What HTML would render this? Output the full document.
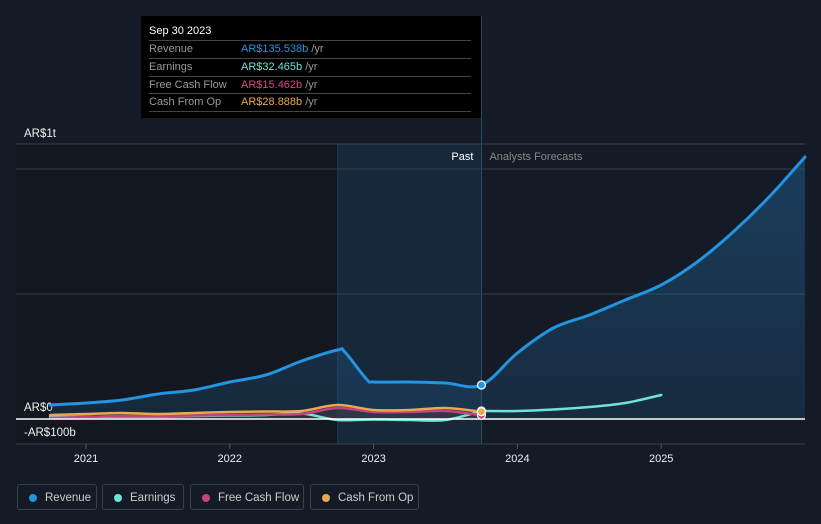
<!DOCTYPE html>
<html><head><meta charset="utf-8"><style>
body{margin:0;background:#151b26;font-family:"Liberation Sans",sans-serif;}
#wrap{position:relative;width:821px;height:524px;overflow:hidden;background:#151b26}
svg{position:absolute;left:0;top:0}
.tt{position:absolute;left:141px;top:16px;width:340px;height:102px;background:#000;color:#fff;font-size:11px}
.tt .h{position:absolute;left:8px;top:9px;font-size:11px}
.tt .r{position:absolute;left:8px;width:322px;height:17px;border-top:1px solid #444;color:#999;line-height:17px}
.tt .r span{position:absolute;left:92px}
.tt .r i{font-style:normal;color:#999}
.lg{position:absolute;top:484px;height:26px;border:1px solid #3a3f48;border-radius:3px;color:#ccc;font-size:11.5px;line-height:26px;box-sizing:border-box}
.lg b{position:absolute;left:11px;top:9px;width:8px;height:8px;border-radius:50%}
.lg span{position:absolute;left:27px;white-space:nowrap}
</style></head><body>
<div id="wrap">
<svg id="svg" width="821" height="524"></svg>
<div class="tt">
<div class="h">Sep 30 2023</div>
<div class="r" style="top:24px">Revenue<span style="color:#2394df">AR$135.538b <i>/yr</i></span></div>
<div class="r" style="top:42px">Earnings<span style="color:#6ee5d4">AR$32.465b <i>/yr</i></span></div>
<div class="r" style="top:60px">Free Cash Flow<span style="color:#d9468b">AR$15.462b <i>/yr</i></span></div>
<div class="r" style="top:77px;border-bottom:1px solid #444">Cash From Op<span style="color:#e9a852">AR$28.888b <i>/yr</i></span></div>
</div>
<div class="lg" style="left:17px;width:80px"><b style="background:#2394df"></b><span>Revenue</span></div>
<div class="lg" style="left:102px;width:82px"><b style="background:#6ee5d4"></b><span>Earnings</span></div>
<div class="lg" style="left:190px;width:114px"><b style="background:#c2437f"></b><span>Free Cash Flow</span></div>
<div class="lg" style="left:310px;width:109px"><b style="background:#e9a852"></b><span>Cash From Op</span></div>
</div>
<script>
const revT=[2020.75,2021,2021.25,2021.5,2021.75,2022,2022.25,2022.5,2022.75,2022.8,2022.95,2023,2023.25,2023.5,2023.75,2024,2024.25,2024.5,2024.75,2025,2025.25,2025.5,2025.75,2026];
const revV=[56,64,76,100,116,148,176,232,276,268,160,148,148,144,136,264,364,416,476,536,628,748,888,1048];
const pastT=[2020.75,2021,2021.25,2021.5,2021.75,2022,2022.25,2022.5,2022.75,2023,2023.25,2023.5,2023.75];
const earnV=[8,8,10,10,12,14,16,22,-4,-2,-4,-4,32];
const earnFT=[2023.75,2024,2024.25,2024.5,2024.75,2025];
const earnFV=[32,32,38,48,64,96];
const fcfV=[4,8,12,12,14,16,18,20,44,28,28,32,15];
const cfoV=[16,20,24,20,24,28,30,32,56,36,36,44,29];
const yTicks=[1000,0,-100];
const yLabels=["AR$1t","AR$0","-AR$100b"];
const xTicks=[2021,2022,2023,2024,2025];
const X=t=>86+(t-2021)*143.8;
const Y=v=>419-v*0.25;
const svg=document.getElementById('svg');
const NS='http://www.w3.org/2000/svg';
function el(tag,attrs,parent){const e=document.createElementNS(NS,tag);for(const k in attrs)e.setAttribute(k,attrs[k]);(parent||svg).appendChild(e);return e;}
function path(ts,vs){const p=ts.map((t,i)=>[X(t),Y(vs[i])]);let d='M'+p[0][0]+','+p[0][1];
for(let i=0;i<p.length-1;i++){const p0=p[Math.max(0,i-1)],p1=p[i],p2=p[i+1],p3=p[Math.min(p.length-1,i+2)];
d+=' C'+(p1[0]+(p2[0]-p0[0])/6)+','+(p1[1]+(p2[1]-p0[1])/6)+' '+(p2[0]-(p3[0]-p1[0])/6)+','+(p2[1]-(p3[1]-p1[1])/6)+' '+p2[0]+','+p2[1];}return d;}
const hl=el('rect',{x:X(2022.75),y:144,width:X(2023.75)-X(2022.75),height:300,fill:'#17283a'});

el('rect',{x:X(2020.75)-34,y:144,width:X(2022.75)-X(2020.75)+34,height:300,fill:'#131820'});
el('line',{x1:X(2022.75),x2:X(2022.75),y1:144,y2:444,stroke:'#1e3a55'});
[144,169,294,444].forEach(y=>{const g=el('line',{x1:16,x2:805,y1:y,y2:y,stroke:'#3a404a'});});
const yPos=[137,411,436];
yTicks.forEach((v,i)=>{const t=el('text',{x:24,y:yPos[i],fill:'#eee','font-size':'11.5'});t.textContent=yLabels[i];});
xTicks.forEach(v=>{el('line',{x1:X(v),x2:X(v),y1:444,y2:449,stroke:'#555'});const t=el('text',{x:X(v),y:462,fill:'#eee','font-size':'11','text-anchor':'middle'});t.textContent=v;});
const rd=path(revT,revV);
const ga=el('defs',{});ga.innerHTML='<linearGradient id="g" x1="0" y1="0" x2="0" y2="1"><stop offset="0" stop-color="#1e5a8a" stop-opacity="0.55"/><stop offset="1" stop-color="#1e5a8a" stop-opacity="0.25"/></linearGradient>';
el('path',{d:rd+' L'+X(2026)+','+Y(0)+' L'+X(2020.75)+','+Y(0)+'Z',fill:'url(#g)'});
el('path',{d:path(pastT,cfoV)+' L'+X(2023.75)+','+Y(0)+' L'+X(2020.75)+','+Y(0)+'Z',fill:'#3a3a45',opacity:0.6});
function line(ts,vs,c,name,w){const p=el('path',{d:path(ts,vs),fill:'none',stroke:c,'stroke-width':w||2.5,'stroke-linecap':'round'});}
line(pastT,earnV,'#6ee5d4','earnings-line');
line(earnFT,earnFV,'#6ee5d4','earnings-forecast-line');
line(pastT,fcfV,'#c2437f','free-cash-flow-line');
line(pastT,cfoV,'#e9a852','cash-from-op-line');
line(revT,revV,'#2394df','revenue-line',3);
el('line',{x1:16,x2:805,y1:Y(0),y2:Y(0),stroke:'#fff','stroke-width':1.5});
el('line',{x1:X(2023.75),x2:X(2023.75),y1:16,y2:444,stroke:'#2a4a66'});
const pt=el('text',{x:X(2023.75)-8,y:160,fill:'#fff','font-size':'11','text-anchor':'end'});pt.textContent='Past';
const ft=el('text',{x:X(2023.75)+8,y:160,fill:'#888','font-size':'11'});ft.textContent='Analysts Forecasts';
[[fcfV,'#c2437f'],[earnV,'#6ee5d4'],[cfoV,'#e9a852'],[revV,'#2394df']].forEach(([a,c])=>{const v=a===revV?revV[revT.indexOf(2023.75)]:a[12];const m=el('circle',{cx:X(2023.75),cy:Y(v),r:4,fill:c,stroke:'#fff','stroke-width':1.2});});
</script>
</body></html>
